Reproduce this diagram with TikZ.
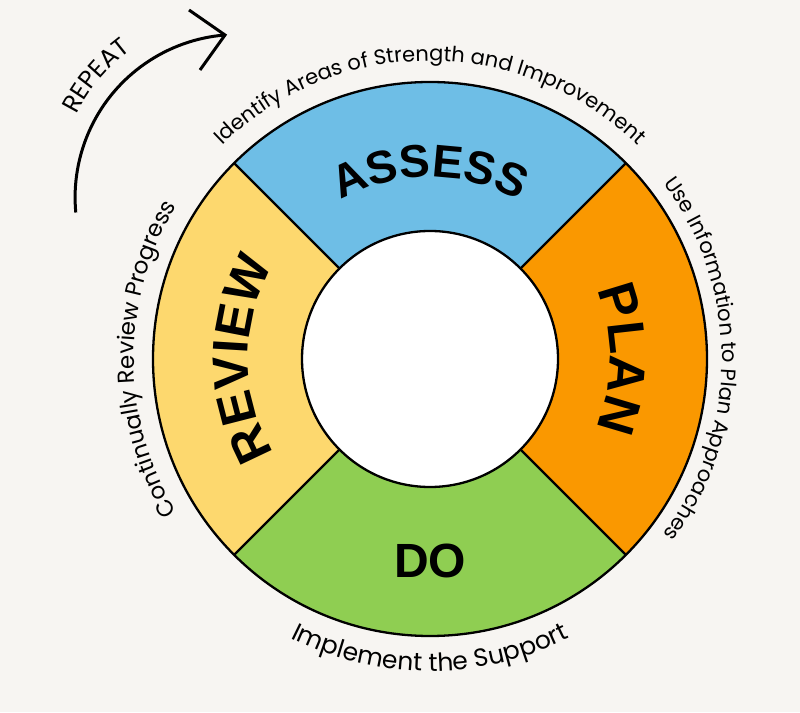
\documentclass[tikz,border=0pt]{standalone}
\usepackage{fontspec}
\setmainfont{Poppins}
\newfontfamily\labelfont{Liberation Sans}
\usetikzlibrary{decorations.text}
\definecolor{bgc}{RGB}{247,245,242}
\definecolor{cblue}{RGB}{110,190,230}
\definecolor{corange}{RGB}{250,152,0}
\definecolor{cgreen}{RGB}{143,206,82}
\definecolor{cyellow}{RGB}{253,216,110}
\newcommand\bigA{\labelfont\bfseries\fontsize{46}{50}\selectfont}
\newcommand\bigP{\labelfont\bfseries\fontsize{52}{56}\selectfont}
\newcommand\bigR{\labelfont\bfseries\fontsize{50}{54}\selectfont}
\newcommand\bigD{\labelfont\bfseries\fontsize{48}{50}\selectfont}
\newcommand\smallT{\fontsize{21}{23}\selectfont}
\newcommand\smallB{\fontsize{25}{27}\selectfont}
\newcommand\smallL{\fontsize{23}{25}\selectfont}
\newcommand\smallRep{\fontsize{25}{27}\selectfont}
\begin{document}
\begin{tikzpicture}[x=1pt,y=1pt,
  ringline/.style={draw=black,line width=2.3pt},
  arctext/.style={decorate,decoration={text along path,text align=center,text={#1}}}]
\useasboundingbox (0,0) rectangle (800,712);
\fill[bgc] (0,0) rectangle (800,712);
\coordinate (C) at (430,353);
\begin{scope}[shift={(C)}]
  \fill[cblue] (45:277pt) arc[start angle=45,end angle=135,radius=277pt] -- (135:128pt) arc[start angle=135,end angle=45,radius=128pt] -- cycle;
  \fill[cyellow] (135:277pt) arc[start angle=135,end angle=225,radius=277pt] -- (225:128pt) arc[start angle=225,end angle=135,radius=128pt] -- cycle;
  \fill[cgreen] (225:277pt) arc[start angle=225,end angle=315,radius=277pt] -- (315:128pt) arc[start angle=315,end angle=225,radius=128pt] -- cycle;
  \fill[corange] (-45:277pt) arc[start angle=-45,end angle=45,radius=277pt] -- (45:128pt) arc[start angle=45,end angle=-45,radius=128pt] -- cycle;
  \foreach \a in {45,135,225,315} \draw[ringline] (\a:128pt) -- (\a:277pt);
  \draw[ringline] (0,0) circle[radius=277pt];
  \draw[ringline,fill=white] (0,0) circle[radius=128pt];
  % sector labels
  \path[arctext={|\bigA|ASSESS}] (130:182pt) arc[start angle=130,end angle=50,radius=182pt];
  \path[arctext={|\bigP|PLAN}] (40:180pt) arc[start angle=40,end angle=-40,radius=180pt];
  \path[arctext={|\bigR|REVIEW}] (220:182pt) arc[start angle=220,end angle=140,radius=182pt];
  \node[font=\bigD,anchor=base] (do) at (0,-219) {DO};
  % outer captions
  \path[arctext={|\smallT|Identify Areas of Strength and Improvement}] (160:298pt) arc[start angle=160,end angle=20,radius=298pt];
  \path[arctext={|\smallT|Use Information to Plan Approaches}] (70:292pt) arc[start angle=70,end angle=-70,radius=292pt];
  \path[arctext={|\smallB|Implement the Support}] (200:312pt) arc[start angle=200,end angle=340,radius=312pt];
  \path[arctext={|\smallL|Continually Review Progress}] (250:296pt) arc[start angle=250,end angle=110,radius=296pt];
\end{scope}
% repeat arrow
\coordinate (tip) at (225,677);
\coordinate (barb1) at (189,702);
\coordinate (barb2) at (200,642);
\draw[line width=3pt] (tip) arc[start angle=94.6,end angle=185.3,radius=163pt];
\draw[line width=3pt,line join=miter] (barb1) -- (tip) -- (barb2);
\begin{scope}[shift={(238,517)}]
  \path[arctext={|\smallRep|REPEAT}] (182:180pt) arc[start angle=182,end angle=98,radius=180pt];
\end{scope}
\end{tikzpicture}
\end{document}
